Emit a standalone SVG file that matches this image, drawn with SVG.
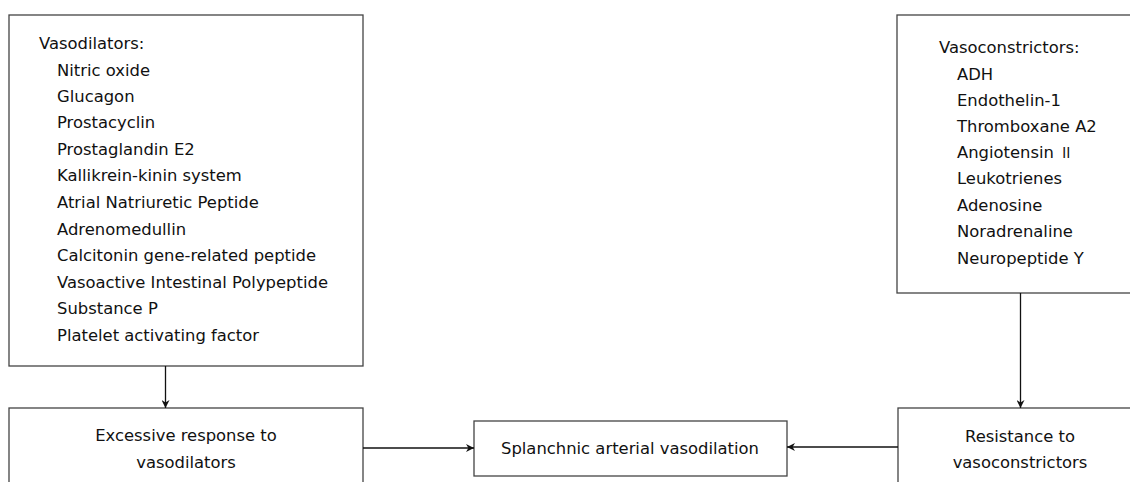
<svg xmlns="http://www.w3.org/2000/svg" width="1130" height="482" viewBox="0 0 1130 482">
<style>
.box{fill:#fff;stroke:#444;stroke-width:1.3}
.t{font-family:"DejaVu Sans",sans-serif;font-size:16.4px;fill:#111}
.c{text-anchor:middle}
.cjk{font-family:"Noto Sans CJK SC","Noto Serif CJK SC",serif;font-size:14px}
.ln{stroke:#111;stroke-width:1.3;fill:none}
</style>
<defs>
<marker id="ah" viewBox="0 0 10 10" refX="10" refY="5" markerWidth="8" markerHeight="8" markerUnits="userSpaceOnUse" orient="auto">
<path d="M0,0 L10,5 L0,10 L3,5 z" fill="#111"/>
</marker>
</defs>
<g id="vasodilators">
<rect class="box" x="9" y="15" width="354" height="351"/>
<text class="t" x="39" y="49">Vasodilators:</text>
<text class="t" x="57" y="76">Nitric oxide</text>
<text class="t" x="57" y="102">Glucagon</text>
<text class="t" x="57" y="128">Prostacyclin</text>
<text class="t" x="57" y="155">Prostaglandin E2</text>
<text class="t" x="57" y="181">Kallikrein-kinin system</text>
<text class="t" x="57" y="208">Atrial Natriuretic Peptide</text>
<text class="t" x="57" y="235">Adrenomedullin</text>
<text class="t" x="57" y="261">Calcitonin gene-related peptide</text>
<text class="t" x="57" y="288">Vasoactive Intestinal Polypeptide</text>
<text class="t" x="57" y="314">Substance P</text>
<text class="t" x="57" y="341">Platelet activating factor</text>
</g>
<g id="vasoconstrictors">
<rect class="box" x="897" y="15" width="250" height="278"/>
<text class="t" x="939" y="53">Vasoconstrictors:</text>
<text class="t" x="957" y="80">ADH</text>
<text class="t" x="957" y="106">Endothelin-1</text>
<text class="t" x="957" y="132">Thromboxane A2</text>
<text class="t" x="957" y="158">Angiotensin <tspan class="cjk">Ⅱ</tspan></text>
<text class="t" x="957" y="184">Leukotrienes</text>
<text class="t" x="957" y="211">Adenosine</text>
<text class="t" x="957" y="237">Noradrenaline</text>
<text class="t" x="957" y="264">Neuropeptide Y</text>
</g>
<g id="excessive">
<rect class="box" x="9" y="408" width="354" height="90"/>
<text class="t c" x="186" y="441">Excessive response to</text>
<text class="t c" x="186" y="468">vasodilators</text>
</g>
<g id="splanchnic">
<rect class="box" x="474" y="421" width="313" height="55"/>
<text class="t c" x="630" y="454">Splanchnic arterial vasodilation</text>
</g>
<g id="resistance">
<rect class="box" x="898" y="408" width="250" height="90"/>
<text class="t c" x="1020" y="442">Resistance to</text>
<text class="t c" x="1020" y="468">vasoconstrictors</text>
</g>
<g id="connectors">
<line class="ln" x1="165.5" y1="366" x2="165.5" y2="408" marker-end="url(#ah)"/>
<line class="ln" x1="1020.5" y1="293" x2="1020.5" y2="408" marker-end="url(#ah)"/>
<line class="ln" x1="363" y1="448" x2="474" y2="448" marker-end="url(#ah)"/>
<line class="ln" x1="898" y1="447" x2="787" y2="447" marker-end="url(#ah)"/>
</g>
</svg>
